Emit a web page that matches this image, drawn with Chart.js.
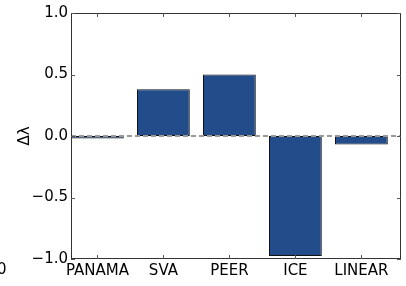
<!DOCTYPE html>
<html>
<head>
<meta charset="utf-8">
<script src="https://cdn.jsdelivr.net/npm/chart.js@4"></script>
<style>
  body { margin: 0; background: #fff; }
  #wrap { position: relative; width: 406px; height: 286px; overflow: hidden; }
  #stray { position: absolute; left: -3px; top: 260px; font: 15px "DejaVu Sans"; color: #000; }
</style>
</head>
<body>
<div id="wrap">
  <canvas id="myChart" width="406" height="286"></canvas>
  <div id="stray">0</div>
</div>
<script>
'use strict'

// methods and their change in lambda
const methods = ['PANAMA', 'SVA', 'PEER', 'ICE', 'LINEAR'];
const deltaLambda = [-0.02, 0.38, 0.5, -0.975, -0.07];
const yTicks = [-1.0, -0.5, 0.0, 0.5, 1.0];

const barColor = 'rgb(34, 76, 138)';

// frame, inward ticks and the dashed zero line, like the old matplotlib look
const framePlugin = {
    id: 'frame',
    afterDatasetsDraw(chart) {
        const ctx = chart.ctx;
        const area = chart.chartArea;
        const xs = chart.scales.x;
        const ys = chart.scales.y;
        ctx.save();

        // dashed zero line
        let y0 = ys.getPixelForValue(0);
        ctx.strokeStyle = '#9a9a9a';
        ctx.lineWidth = 2;
        ctx.setLineDash([5, 3]);
        ctx.beginPath();
        ctx.moveTo(area.left, y0);
        ctx.lineTo(area.right, y0);
        ctx.stroke();
        ctx.setLineDash([]);

        ctx.strokeStyle = '#333';
        ctx.lineWidth = 1;
        ctx.strokeRect(area.left + 0.5, area.top + 0.5, area.right - area.left - 1, area.bottom - area.top - 1);

        ctx.strokeStyle = '#555';
        ctx.beginPath();
        for (let i = 0; i < methods.length; i++) {
            let x = Math.round(xs.getPixelForValue(i)) + 0.5;
            ctx.moveTo(x, area.bottom);
            ctx.lineTo(x, area.bottom - 4);
            ctx.moveTo(x, area.top);
            ctx.lineTo(x, area.top + 4);
        }
        for (let v of yTicks) {
            let y = Math.round(ys.getPixelForValue(v)) + 0.5;
            ctx.moveTo(area.left, y);
            ctx.lineTo(area.left + 4, y);
            ctx.moveTo(area.right, y);
            ctx.lineTo(area.right - 4, y);
        }
        ctx.stroke();
        ctx.restore();
    }
};

var ctx = document.getElementById('myChart').getContext('2d');

new Chart(ctx, {
    type: 'bar',
    data: {
        datasets: [{
            data: deltaLambda.map((v, i) => ({x: i, y: v})),
            backgroundColor: barColor,
            borderColor: '#111',
            borderWidth: 1,
            borderSkipped: false,
            barPercentage: 0.8,
            categoryPercentage: 1.0
        }]
    },
    options: {
        responsive: false,
        animation: false,
        layout: { padding: { top: 13, right: 5, left: 0, bottom: 0 } },
        plugins: {
            legend: { display: false },
            tooltip: { enabled: false }
        },
        scales: {
            x: {
                type: 'linear',
                offset: false,
                min: -0.4,
                max: 4.6,
                grid: { display: false, drawTicks: false },
                border: { display: false },
                afterBuildTicks: (scale) => {
                    scale.ticks = methods.map((_, i) => ({value: i}));
                },
                afterFit: (scale) => { scale.height = 27; },
                ticks: {
                    autoSkip: false,
                    maxRotation: 0,
                    padding: 3,
                    color: '#000',
                    font: { family: 'DejaVu Sans', size: 15 },
                    callback: (v) => methods[v]
                }
            },
            y: {
                min: -1,
                max: 1,
                grid: { display: false, drawTicks: false },
                border: { display: false },
                afterBuildTicks: (scale) => {
                    scale.ticks = yTicks.map(v => ({value: v}));
                },
                afterFit: (scale) => { scale.width = 71; },
                title: {
                    display: true,
                    text: 'Δλ',
                    color: '#000',
                    padding: { top: 16, bottom: 0 },
                    font: { family: 'DejaVu Sans', size: 15 }
                },
                ticks: {
                    padding: 3,
                    color: '#000',
                    font: { family: 'DejaVu Sans', size: 15 },
                    callback: (v) => v.toFixed(1).replace('-', '\u2212')
                }
            }
        }
    },
    plugins: [framePlugin]
});
</script>
</body>
</html>
